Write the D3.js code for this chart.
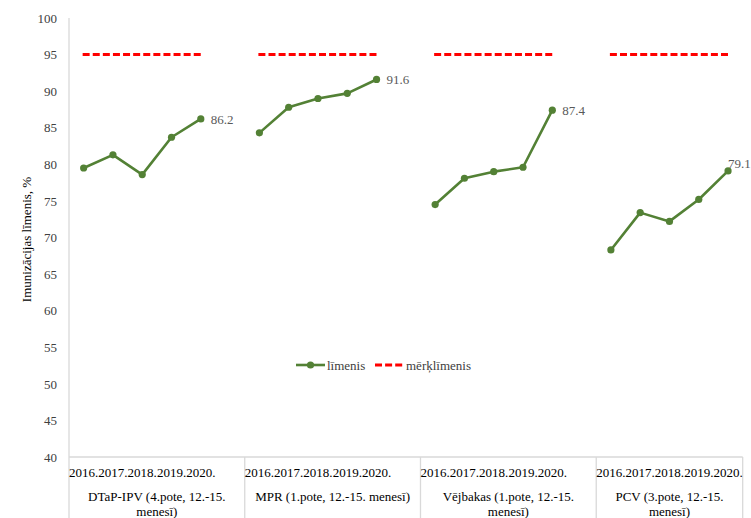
<!DOCTYPE html>
<html>
<head>
<meta charset="utf-8">
<script src="https://cdn.jsdelivr.net/npm/d3@7"></script>
<style>
  html, body { margin: 0; padding: 0; background: #fff; }
  svg { display: block; }
  svg text { font-family: "Liberation Serif", "DejaVu Serif", serif !important; }
</style>
</head>
<body>
<svg id="chart" width="751" height="518"></svg>
<script>
// ---- data ----
const years = ["2016.", "2017.", "2018.", "2019.", "2020."];
const groups = ["DTaP-IPV (4.pote, 12.-15. menesī)", "MPR (1.pote, 12.-15. menesī)", "Vējbakas (1.pote, 12.-15. menesī)", "PCV (3.pote, 12.-15. menesī)"];
const groupLabelLines = [
  ["DTaP-IPV (4.pote, 12.-15.", "menesī)"],
  ["MPR (1.pote, 12.-15. menesī)"],
  ["Vējbakas (1.pote, 12.-15.", "menesī)"],
  ["PCV (3.pote, 12.-15.", "menesī)"]
];
const levelDTaP = [79.5, 81.3, 78.6, 83.7, 86.2];
const levelMPR = [84.3, 87.8, 89.0, 89.7, 91.6];
const levelVej = [74.5, 78.1, 79.0, 79.6, 87.4];
const levelPCV = [68.3, 73.4, 72.2, 75.2, 79.1];
const levels = [levelDTaP, levelMPR, levelVej, levelPCV];
const targetLevel = 95;
const yTicks = [40, 45, 50, 55, 60, 65, 70, 75, 80, 85, 90, 95, 100];
const legendLabels = ["līmenis", "mērķlīmenis"];
const yTitle = "Imunizācijas līmenis, %";

(function () {
// ---- layout ----
const W = 751, H = 518;
const pLeft = 69, pRight = 742.7, pTop = 18, pBottom = 457;
const green = "#538135", red = "#ff0000", axisCol = "#d9d9d9", textCol = "#404040";
const FONT = "'Liberation Serif', 'DejaVu Serif', serif";

const svg = d3.select("#chart").attr("font-family", FONT);

// slots: 5 years + 1 gap per group (no gap after last)
const slots = [];
groups.forEach((g, gi) => {
  years.forEach((yr, yi) => slots.push(gi + "-" + yi));
  if (gi < groups.length - 1) slots.push(gi + "-gap");
});
const x = d3.scaleBand().domain(slots).range([pLeft, pRight]).padding(0);
const cx = (gi, yi) => x(gi + "-" + yi) + x.bandwidth() / 2;
const y = d3.scaleLinear().domain([40, 100]).range([pBottom, pTop]);

// y axis
const yAxis = svg.append("g").attr("transform", `translate(${pLeft},0)`)
  .call(d3.axisLeft(y).tickValues(yTicks).tickSize(0).tickPadding(12));
yAxis.attr("font-family", FONT).attr("font-size", 13);
yAxis.select(".domain").remove();
yAxis.selectAll("text").attr("fill", textCol);

svg.append("text")
  .attr("transform", `translate(31,${(pTop + pBottom) / 2 + 2}) rotate(-90)`)
  .attr("text-anchor", "middle").attr("font-size", 13).attr("fill", "#000")
  .text(yTitle);

// axis / table lines
svg.append("line").attr("x1", pLeft).attr("x2", pLeft).attr("y1", pTop).attr("y2", H)
  .attr("stroke", axisCol).attr("stroke-width", 1.3);
svg.append("line").attr("x1", pLeft).attr("x2", pRight).attr("y1", pBottom).attr("y2", pBottom)
  .attr("stroke", axisCol).attr("stroke-width", 1.3);
const groupBounds = groups.map((g, gi) => {
  const x0 = gi === 0 ? pLeft : x((gi - 1) + "-gap") + x.bandwidth();
  const x1 = gi < groups.length - 1 ? x(gi + "-gap") + x.bandwidth() : pRight;
  return [x0, x1];
});
groupBounds.forEach(([x0, x1], gi) => {
  if (gi > 0) svg.append("line").attr("x1", x0).attr("x2", x0).attr("y1", pBottom).attr("y2", H)
    .attr("stroke", axisCol).attr("stroke-width", 1.3);
});
svg.append("line").attr("x1", pRight).attr("x2", pRight).attr("y1", pBottom).attr("y2", H)
  .attr("stroke", axisCol).attr("stroke-width", 1.3);

// category labels
groups.forEach((g, gi) => {
  years.forEach((yr, yi) => {
    svg.append("text").attr("x", cx(gi, yi)).attr("y", 477)
      .attr("text-anchor", "middle").attr("font-size", 13).attr("fill", "#000").text(yr);
  });
  const [x0, x1] = groupBounds[gi];
  const mid = (x0 + x1) / 2;
  groupLabelLines[gi].forEach((ln, li) => {
    svg.append("text").attr("x", mid).attr("y", 501 + li * 15)
      .attr("text-anchor", "middle").attr("font-size", 13).attr("fill", "#000").text(ln);
  });
});

// target lines
groups.forEach((g, gi) => {
  svg.append("line")
    .attr("x1", cx(gi, 0) - 1).attr("x2", cx(gi, 4) + 1)
    .attr("y1", y(targetLevel)).attr("y2", y(targetLevel))
    .attr("stroke", red).attr("stroke-width", 3).attr("stroke-dasharray", "7,3.1");
});

// level lines
const line = d3.line().x(d => d[0]).y(d => d[1]);
levels.forEach((vals, gi) => {
  const pts = vals.map((v, yi) => [cx(gi, yi), y(v)]);
  svg.append("path").attr("d", line(pts)).attr("fill", "none")
    .attr("stroke", green).attr("stroke-width", 2.6).attr("stroke-linejoin", "round");
  svg.selectAll(null).data(pts).enter().append("circle")
    .attr("cx", d => d[0]).attr("cy", d => d[1]).attr("r", 3.6).attr("fill", green);
  const last = pts[pts.length - 1];
  const lastVal = vals[vals.length - 1];
  const fitsRight = last[0] + 10 + 24 < W;
  svg.append("text")
    .attr("x", fitsRight ? last[0] + 10 : last[0])
    .attr("y", fitsRight ? last[1] : last[1] - 7)
    .attr("dy", "0.35em")
    .attr("font-size", 13).attr("fill", "#595959")
    .text(lastVal.toFixed(1));
});

// legend
const ly = 365;
const lg = svg.append("g");
lg.append("line").attr("x1", 296).attr("x2", 325).attr("y1", ly).attr("y2", ly)
  .attr("stroke", green).attr("stroke-width", 2.6);
lg.append("circle").attr("cx", 310.5).attr("cy", ly).attr("r", 3.6).attr("fill", green);
lg.append("text").attr("x", 327).attr("y", ly).attr("dy", "0.35em")
  .attr("font-size", 13).attr("fill", textCol).text(legendLabels[0]);
lg.append("line").attr("x1", 375).attr("x2", 405).attr("y1", ly).attr("y2", ly)
  .attr("stroke", red).attr("stroke-width", 3).attr("stroke-dasharray", "7,3.1");
lg.append("text").attr("x", 406).attr("y", ly).attr("dy", "0.35em")
  .attr("font-size", 13).attr("fill", textCol).text(legendLabels[1]);
})();
</script>
</body>
</html>
